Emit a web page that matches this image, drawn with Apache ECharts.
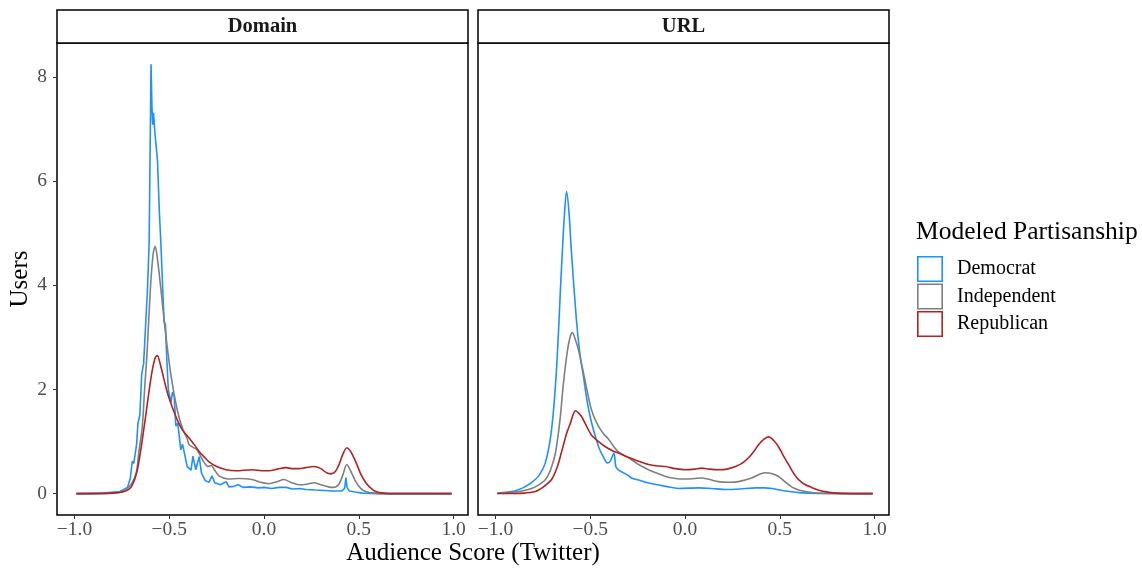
<!DOCTYPE html>
<html>
<head>
<meta charset="utf-8">
<script src="https://cdn.jsdelivr.net/npm/echarts@6/dist/echarts.min.js"></script>
<style>
  html, body { margin: 0; padding: 0; background: #fff; }
  #chart { width: 1142px; height: 568px; }
</style>
</head>
<body>
<div id="chart"></div>
<script>
const panels = ['Domain', 'URL']
const groups = ['Democrat', 'Independent', 'Republican']
const groupColors = ['#1E90FF', '#7F7F7F', '#B22222']
const xTicks = [-1, -0.5, 0, 0.5, 1]
const yTicks = [0, 2, 4, 6, 8]

// Domain panel, [score, density]
const domainDemocrat = [[-0.99,0],[-0.85,0.01],[-0.76,0.04],[-0.72,0.12],[-0.705,0.3],[-0.695,0.62],[-0.687,0.58],[-0.68,0.75],[-0.672,0.95],[-0.665,1.35],[-0.655,1.5],[-0.645,2.3],[-0.635,2.5],[-0.625,3.2],[-0.615,3.9],[-0.606,4.8],[-0.601,6.5],[-0.596,8.24],[-0.591,7.4],[-0.587,7.08],[-0.583,7.31],[-0.575,6.9],[-0.562,6.4],[-0.552,5.4],[-0.544,4.8],[-0.535,4.0],[-0.527,3.3],[-0.52,3.25],[-0.513,2.6],[-0.505,2.0],[-0.491,1.75],[-0.483,1.95],[-0.474,1.87],[-0.465,1.3],[-0.455,1.35],[-0.447,1.1],[-0.439,0.84],[-0.43,0.95],[-0.421,0.97],[-0.405,0.52],[-0.395,0.55],[-0.385,0.45],[-0.375,0.72],[-0.368,0.71],[-0.36,0.46],[-0.342,0.71],[-0.33,0.4],[-0.31,0.25],[-0.29,0.22],[-0.274,0.34],[-0.26,0.21],[-0.23,0.17],[-0.2,0.23],[-0.185,0.13],[-0.16,0.14],[-0.137,0.17],[-0.11,0.12],[-0.07,0.13],[-0.03,0.11],[0,0.12],[0.04,0.1],[0.08,0.12],[0.116,0.12],[0.15,0.09],[0.19,0.1],[0.221,0.08],[0.27,0.07],[0.32,0.06],[0.36,0.05],[0.41,0.05],[0.425,0.1],[0.432,0.31],[0.438,0.12],[0.45,0.05],[0.48,0.03],[0.52,0.01],[0.6,0],[0.99,0]]
const domainIndependent = [[-0.99,0],[-0.8,0.01],[-0.74,0.05],[-0.7,0.18],[-0.674,0.4],[-0.66,0.8],[-0.642,1.29],[-0.63,2.0],[-0.616,2.76],[-0.6,3.9],[-0.585,4.6],[-0.574,4.75],[-0.562,4.5],[-0.542,3.86],[-0.52,3.1],[-0.49,2.25],[-0.458,1.61],[-0.43,1.25],[-0.405,1.05],[-0.395,0.94],[-0.37,0.88],[-0.353,0.84],[-0.335,0.72],[-0.316,0.6],[-0.295,0.52],[-0.279,0.54],[-0.26,0.45],[-0.237,0.34],[-0.19,0.28],[-0.131,0.29],[-0.063,0.27],[-0.02,0.22],[0.026,0.19],[0.07,0.23],[0.105,0.27],[0.14,0.22],[0.184,0.17],[0.225,0.18],[0.263,0.21],[0.3,0.17],[0.34,0.13],[0.368,0.12],[0.395,0.18],[0.415,0.35],[0.437,0.56],[0.455,0.45],[0.484,0.23],[0.51,0.1],[0.537,0.04],[0.58,0.01],[0.65,0],[0.99,0]]
const domainRepublican = [[-0.99,0],[-0.8,0.01],[-0.737,0.04],[-0.7,0.13],[-0.668,0.46],[-0.632,1.29],[-0.595,2.25],[-0.575,2.6],[-0.563,2.65],[-0.545,2.45],[-0.51,1.94],[-0.48,1.62],[-0.458,1.42],[-0.43,1.22],[-0.395,1.07],[-0.37,0.95],[-0.342,0.81],[-0.315,0.7],[-0.29,0.61],[-0.25,0.52],[-0.2,0.46],[-0.15,0.44],[-0.063,0.46],[0,0.44],[0.026,0.44],[0.07,0.47],[0.116,0.5],[0.15,0.48],[0.184,0.48],[0.22,0.5],[0.263,0.52],[0.3,0.48],[0.33,0.4],[0.353,0.38],[0.375,0.42],[0.395,0.55],[0.415,0.75],[0.437,0.88],[0.455,0.82],[0.484,0.61],[0.51,0.38],[0.537,0.21],[0.565,0.1],[0.589,0.04],[0.63,0.01],[0.7,0],[0.99,0]]

// URL panel
const urlDemocrat = [[-0.99,0.01],[-0.9,0.05],[-0.85,0.12],[-0.81,0.21],[-0.77,0.35],[-0.736,0.6],[-0.704,1.23],[-0.678,2.38],[-0.652,4.3],[-0.637,5.3],[-0.625,5.8],[-0.612,5.4],[-0.599,4.63],[-0.573,3.34],[-0.555,2.7],[-0.536,2.25],[-0.515,1.75],[-0.493,1.36],[-0.456,0.9],[-0.43,0.7],[-0.41,0.59],[-0.395,0.62],[-0.375,0.78],[-0.365,0.52],[-0.35,0.45],[-0.335,0.42],[-0.3,0.35],[-0.282,0.3],[-0.245,0.26],[-0.208,0.22],[-0.16,0.18],[-0.103,0.14],[-0.034,0.1],[0.071,0.11],[0.14,0.1],[0.214,0.08],[0.29,0.09],[0.372,0.11],[0.42,0.11],[0.457,0.1],[0.5,0.07],[0.53,0.05],[0.6,0.02],[0.7,0.005],[0.99,0]]
const urlIndependent = [[-0.99,0.005],[-0.9,0.03],[-0.826,0.08],[-0.78,0.15],[-0.736,0.27],[-0.71,0.45],[-0.683,0.79],[-0.66,1.4],[-0.641,2.13],[-0.62,2.75],[-0.605,3.02],[-0.594,3.09],[-0.578,2.95],[-0.562,2.76],[-0.525,2.13],[-0.5,1.7],[-0.483,1.5],[-0.456,1.29],[-0.43,1.15],[-0.404,1.05],[-0.375,0.9],[-0.351,0.8],[-0.314,0.72],[-0.282,0.65],[-0.245,0.56],[-0.193,0.46],[-0.14,0.38],[-0.103,0.33],[-0.05,0.29],[0.003,0.28],[0.05,0.29],[0.087,0.3],[0.13,0.27],[0.177,0.23],[0.23,0.22],[0.282,0.23],[0.351,0.3],[0.4,0.38],[0.425,0.4],[0.46,0.38],[0.493,0.33],[0.53,0.22],[0.562,0.13],[0.6,0.07],[0.636,0.04],[0.7,0.01],[0.99,0]]
const urlRepublican = [[-0.99,0.002],[-0.85,0.01],[-0.79,0.04],[-0.75,0.12],[-0.704,0.27],[-0.675,0.5],[-0.652,0.79],[-0.625,1.15],[-0.604,1.36],[-0.59,1.52],[-0.578,1.59],[-0.565,1.56],[-0.546,1.48],[-0.52,1.3],[-0.493,1.12],[-0.456,1.0],[-0.42,0.9],[-0.38,0.82],[-0.351,0.78],[-0.3,0.7],[-0.245,0.62],[-0.193,0.56],[-0.14,0.53],[-0.103,0.52],[-0.05,0.48],[0.003,0.46],[0.05,0.47],[0.087,0.49],[0.13,0.47],[0.177,0.46],[0.22,0.47],[0.266,0.52],[0.3,0.58],[0.335,0.69],[0.365,0.82],[0.388,0.94],[0.415,1.04],[0.441,1.09],[0.468,1.02],[0.493,0.9],[0.52,0.72],[0.546,0.56],[0.575,0.38],[0.599,0.27],[0.635,0.17],[0.668,0.12],[0.72,0.05],[0.8,0.01],[0.99,0]]

const panelData = [
  [domainDemocrat, domainIndependent, domainRepublican],
  [urlDemocrat, urlIndependent, urlRepublican]
]

const font = "'Liberation Serif', 'DejaVu Serif', serif"
const fmt = v => v.toFixed(1).replace('-', '\u2212')

const gridLeft = [57, 478]
const gridWidth = 411
const gridTop = 43
const gridHeight = 472

const chart = echarts.init(document.getElementById('chart'))

const grids = gridLeft.map(left => ({
  left: left, top: gridTop, width: gridWidth, height: gridHeight,
  outerBoundsMode: 'none', containLabel: false,
  show: true, borderColor: '#000', borderWidth: 1.5, backgroundColor: '#fff'
}))

const xAxes = panels.map((p, i) => ({
  type: 'value', gridIndex: i, min: -1.092, max: 1.076, position: 'bottom',
  axisLine: { show: false, onZero: false },
  splitLine: { show: false },
  axisTick: { show: true, length: 4, customValues: xTicks, lineStyle: { color: '#333', width: 1 } },
  axisLabel: { customValues: xTicks, formatter: fmt, color: '#4d4d4d', fontSize: 19.5, fontFamily: font, margin: 5 }
}))

const yAxes = panels.map((p, i) => ({
  type: 'value', gridIndex: i, min: -0.41, max: 8.65, position: 'left',
  axisLine: { show: false, onZero: false },
  splitLine: { show: false },
  axisTick: { show: i === 0, length: 4, customValues: yTicks, lineStyle: { color: '#333', width: 1 } },
  axisLabel: { show: i === 0, customValues: yTicks, color: '#4d4d4d', fontSize: 19.5, fontFamily: font, margin: 10 },
  name: i === 0 ? 'Users' : '',
  nameLocation: 'middle', nameGap: 22,
  nameTextStyle: { fontSize: 25, fontFamily: font, color: '#000' }
}))

const series = []
panelData.forEach((sets, pi) => {
  sets.forEach((data, gi) => {
    series.push({
      name: groups[gi], type: 'line', xAxisIndex: pi, yAxisIndex: pi,
      data: data, showSymbol: false, symbol: 'none',
      smooth: (pi === 0 && gi === 0) ? false : 0.3,
      lineStyle: { color: groupColors[gi], width: 1.6 },
      itemStyle: { color: groupColors[gi] },
      z: 2 + gi
    })
  })
})

const strips = panels.map((p, i) => ([
  { type: 'rect', shape: { x: gridLeft[i], y: 10, width: gridWidth, height: 33 },
    style: { fill: '#fff', stroke: '#000', lineWidth: 1.5 } },
  { type: 'text', x: gridLeft[i] + gridWidth / 2, y: 27,
    style: { text: p, fontSize: 20.5, fontWeight: 'bold', fontFamily: font, fill: '#1a1a1a', align: 'center', verticalAlign: 'middle' } }
])).flat()

chart.setOption({
  animation: false,
  grid: grids,
  xAxis: xAxes,
  yAxis: yAxes,
  legend: {
    data: groups, orient: 'vertical', left: 917, top: 256, padding: 0,
    itemWidth: 26, itemHeight: 26, itemGap: 1.5,
    icon: 'path://M0,0H26V26H0Z M1.6,1.6V24.4H24.4V1.6Z',
    textStyle: { fontSize: 20, fontFamily: font, color: '#000', padding: [0, 0, 0, 9] }
  },
  graphic: strips.concat([
    { type: 'text', x: 473, y: 553,
      style: { text: 'Audience Score (Twitter)', fontSize: 25, fontFamily: font, fill: '#000', align: 'center', verticalAlign: 'middle' } },
    { type: 'text', x: 916, y: 232,
      style: { text: 'Modeled Partisanship', fontSize: 25.5, fontFamily: font, fill: '#000', align: 'left', verticalAlign: 'middle' } }
  ]),
  series: series
})
</script>
</body>
</html>
